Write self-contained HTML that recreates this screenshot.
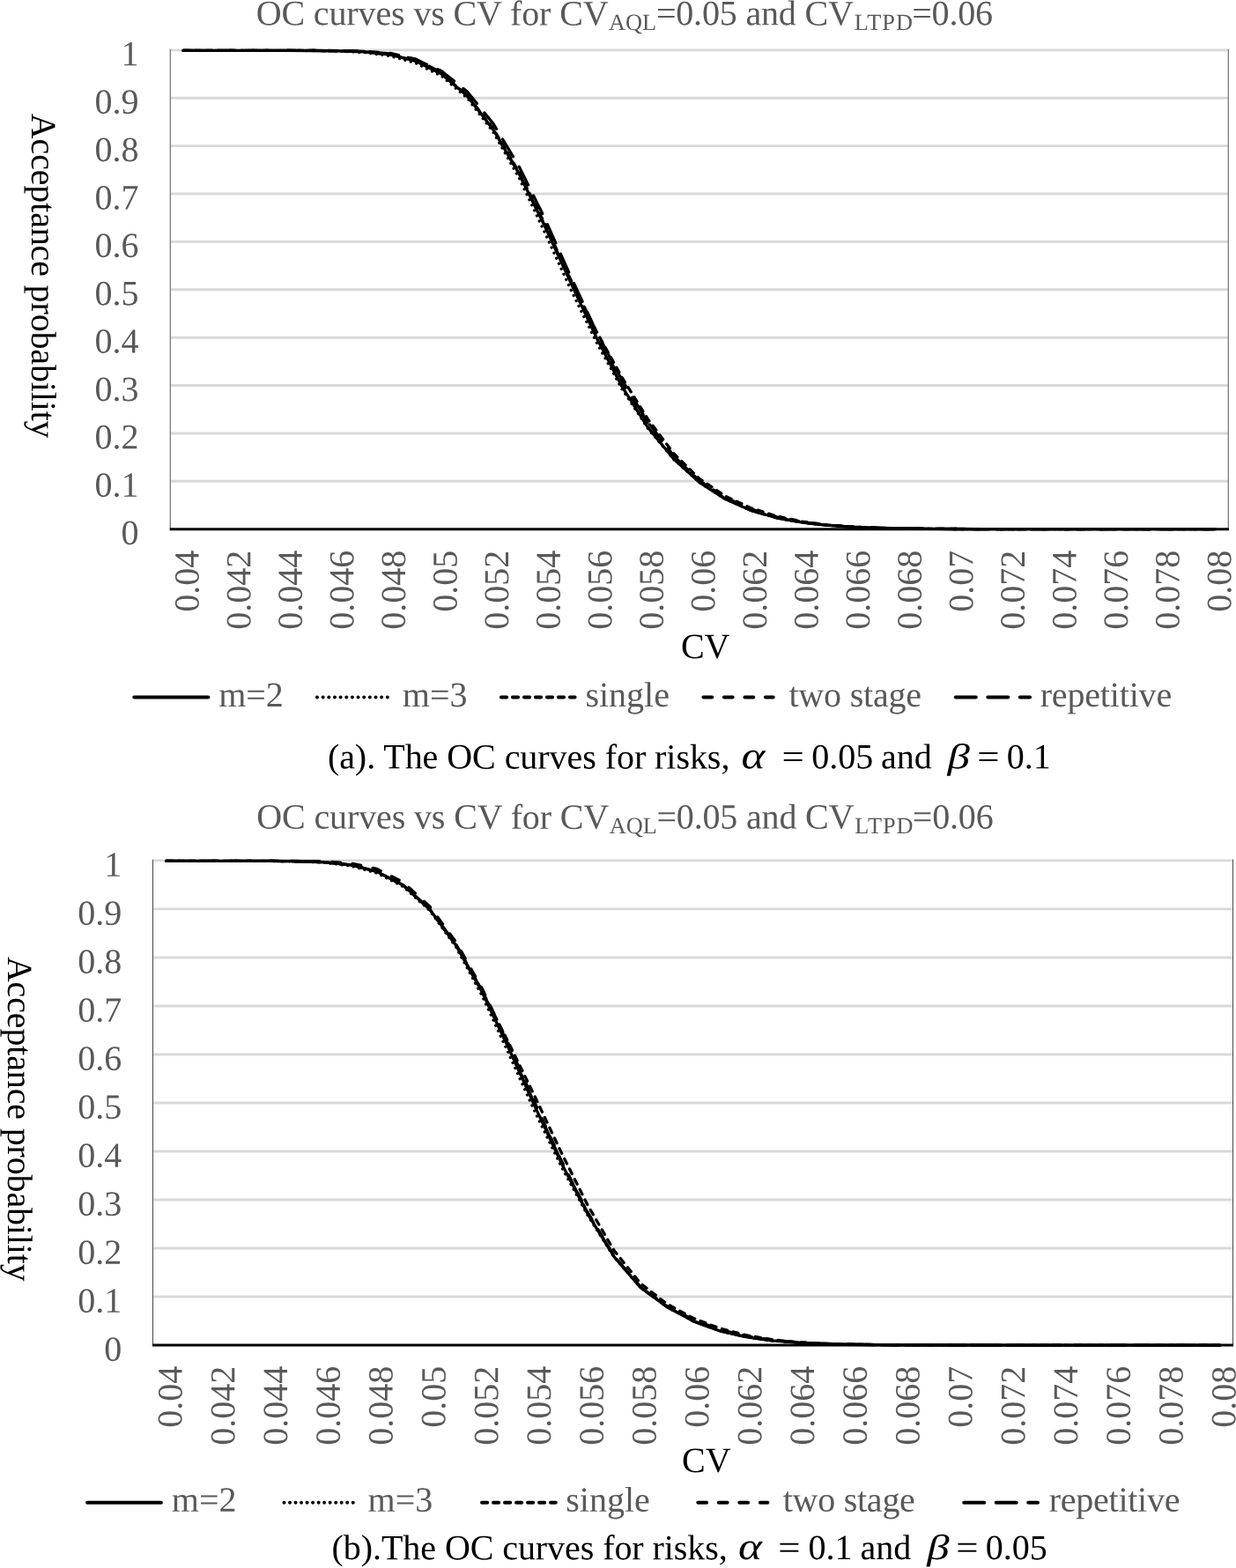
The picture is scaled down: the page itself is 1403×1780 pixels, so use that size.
<!DOCTYPE html>
<html lang="en">
<head>
<meta charset="utf-8">
<title>OC curves vs CV</title>
<style>
html,body{margin:0;padding:0;background:#fff;}
body{width:1403px;height:1780px;overflow:hidden;}
svg{display:block;}
svg text{font-family:"Liberation Serif", "DejaVu Serif", serif;font-size:40px;}
</style>
</head>
<body>
<svg width="1403" height="1780" viewBox="0 0 1403 1780">
<rect width="1403" height="1780" fill="#fff"/>
<line x1="193.50" y1="56.90" x2="1394.40" y2="56.90" stroke="#d9d9d9" stroke-width="2.9"/>
<line x1="193.50" y1="111.28" x2="1394.40" y2="111.28" stroke="#d9d9d9" stroke-width="2.9"/>
<line x1="193.50" y1="165.66" x2="1394.40" y2="165.66" stroke="#d9d9d9" stroke-width="2.9"/>
<line x1="193.50" y1="220.04" x2="1394.40" y2="220.04" stroke="#d9d9d9" stroke-width="2.9"/>
<line x1="193.50" y1="274.42" x2="1394.40" y2="274.42" stroke="#d9d9d9" stroke-width="2.9"/>
<line x1="193.50" y1="328.80" x2="1394.40" y2="328.80" stroke="#d9d9d9" stroke-width="2.9"/>
<line x1="193.50" y1="383.18" x2="1394.40" y2="383.18" stroke="#d9d9d9" stroke-width="2.9"/>
<line x1="193.50" y1="437.56" x2="1394.40" y2="437.56" stroke="#d9d9d9" stroke-width="2.9"/>
<line x1="193.50" y1="491.94" x2="1394.40" y2="491.94" stroke="#d9d9d9" stroke-width="2.9"/>
<line x1="193.50" y1="546.32" x2="1394.40" y2="546.32" stroke="#d9d9d9" stroke-width="2.9"/>
<rect x="192.70" y="55.70" width="1.3" height="545.00" fill="#7a7a7a"/>
<rect x="1393.70" y="55.70" width="1.3" height="545.00" fill="#7a7a7a"/>
<text transform="translate(157.50,74.30) rotate(0.03)" text-anchor="end" fill="#595959">1</text>
<text transform="translate(157.50,128.68) rotate(0.03)" text-anchor="end" fill="#595959">0.9</text>
<text transform="translate(157.50,183.06) rotate(0.03)" text-anchor="end" fill="#595959">0.8</text>
<text transform="translate(157.50,237.44) rotate(0.03)" text-anchor="end" fill="#595959">0.7</text>
<text transform="translate(157.50,291.82) rotate(0.03)" text-anchor="end" fill="#595959">0.6</text>
<text transform="translate(157.50,346.20) rotate(0.03)" text-anchor="end" fill="#595959">0.5</text>
<text transform="translate(157.50,400.58) rotate(0.03)" text-anchor="end" fill="#595959">0.4</text>
<text transform="translate(157.50,454.96) rotate(0.03)" text-anchor="end" fill="#595959">0.3</text>
<text transform="translate(157.50,509.34) rotate(0.03)" text-anchor="end" fill="#595959">0.2</text>
<text transform="translate(157.50,563.72) rotate(0.03)" text-anchor="end" fill="#595959">0.1</text>
<text transform="translate(157.50,618.10) rotate(0.03)" text-anchor="end" fill="#595959">0</text>
<text transform="translate(225.60,624.80) rotate(-89.97)" text-anchor="end" fill="#595959">0.04</text>
<text transform="translate(284.18,624.80) rotate(-89.97)" text-anchor="end" fill="#595959">0.042</text>
<text transform="translate(342.76,624.80) rotate(-89.97)" text-anchor="end" fill="#595959">0.044</text>
<text transform="translate(401.34,624.80) rotate(-89.97)" text-anchor="end" fill="#595959">0.046</text>
<text transform="translate(459.92,624.80) rotate(-89.97)" text-anchor="end" fill="#595959">0.048</text>
<text transform="translate(518.50,624.80) rotate(-89.97)" text-anchor="end" fill="#595959">0.05</text>
<text transform="translate(577.08,624.80) rotate(-89.97)" text-anchor="end" fill="#595959">0.052</text>
<text transform="translate(635.66,624.80) rotate(-89.97)" text-anchor="end" fill="#595959">0.054</text>
<text transform="translate(694.24,624.80) rotate(-89.97)" text-anchor="end" fill="#595959">0.056</text>
<text transform="translate(752.82,624.80) rotate(-89.97)" text-anchor="end" fill="#595959">0.058</text>
<text transform="translate(811.40,624.80) rotate(-89.97)" text-anchor="end" fill="#595959">0.06</text>
<text transform="translate(869.99,624.80) rotate(-89.97)" text-anchor="end" fill="#595959">0.062</text>
<text transform="translate(928.57,624.80) rotate(-89.97)" text-anchor="end" fill="#595959">0.064</text>
<text transform="translate(987.15,624.80) rotate(-89.97)" text-anchor="end" fill="#595959">0.066</text>
<text transform="translate(1045.73,624.80) rotate(-89.97)" text-anchor="end" fill="#595959">0.068</text>
<text transform="translate(1104.31,624.80) rotate(-89.97)" text-anchor="end" fill="#595959">0.07</text>
<text transform="translate(1162.89,624.80) rotate(-89.97)" text-anchor="end" fill="#595959">0.072</text>
<text transform="translate(1221.47,624.80) rotate(-89.97)" text-anchor="end" fill="#595959">0.074</text>
<text transform="translate(1280.05,624.80) rotate(-89.97)" text-anchor="end" fill="#595959">0.076</text>
<text transform="translate(1338.63,624.80) rotate(-89.97)" text-anchor="end" fill="#595959">0.078</text>
<text transform="translate(1397.21,624.80) rotate(-89.97)" text-anchor="end" fill="#595959">0.08</text>
<polyline points="208.15,57.40 237.44,57.40 266.73,57.40 296.02,57.40 325.31,57.42 354.60,57.52 383.89,57.99 413.18,59.58 442.47,63.52 471.76,71.53 501.05,86.29 530.34,111.37 559.63,149.58 588.92,201.46 618.21,263.62 647.50,328.00 676.79,388.09 706.08,441.66 735.37,486.39 764.66,521.48 793.95,547.71 823.24,566.57 852.53,579.50 881.82,587.94 911.11,593.23 940.40,596.43 969.69,598.31 998.98,599.39 1028.27,599.99 1057.56,600.32 1086.85,600.50 1116.14,600.60 1145.43,600.65 1174.72,600.67 1204.01,600.69 1233.30,600.69 1262.59,600.70 1291.88,600.70 1321.17,600.70 1350.46,600.70 1379.75,600.70" fill="none" stroke="#000" stroke-width="3.3" stroke-linecap="round" stroke-linejoin="round" stroke-dasharray="0.01 6.64"/>
<polyline points="208.15,57.40 237.44,57.40 266.73,57.40 296.02,57.40 325.31,57.41 354.60,57.44 383.89,57.55 413.18,58.06 442.47,60.29 471.76,67.19 501.05,82.39 530.34,108.47 559.63,146.66 588.92,196.55 618.21,255.42 647.50,318.49 676.79,379.38 706.08,433.95 735.37,480.72 764.66,517.99 793.95,545.53 823.24,564.70 852.53,577.87 881.82,586.80 911.11,592.63 940.40,596.20 969.69,598.25 998.98,599.38 1028.27,599.99 1057.56,600.32 1086.85,600.50 1116.14,600.60 1145.43,600.65 1174.72,600.67 1204.01,600.69 1233.30,600.69 1262.59,600.70 1291.88,600.70 1321.17,600.70 1350.46,600.70 1379.75,600.70" fill="none" stroke="#000" stroke-width="3.3" stroke-linecap="round" stroke-linejoin="round" stroke-dasharray="9.8 13.7"/>
<polyline points="208.15,57.40 237.44,57.40 266.73,57.40 296.02,57.40 325.31,57.40 354.60,57.42 383.89,57.61 413.18,58.43 442.47,60.98 471.76,67.36 501.05,80.59 530.34,103.99 559.63,139.92 588.92,188.58 618.21,247.65 647.50,313.13 676.79,376.22 706.08,431.70 735.37,479.21 764.66,517.38 793.95,546.04 823.24,566.09 852.53,579.41 881.82,587.93 911.11,593.23 940.40,596.43 969.69,598.31 998.98,599.39 1028.27,599.99 1057.56,600.32 1086.85,600.50 1116.14,600.60 1145.43,600.65 1174.72,600.67 1204.01,600.69 1233.30,600.69 1262.59,600.70 1291.88,600.70 1321.17,600.70 1350.46,600.70 1379.75,600.70" fill="none" stroke="#000" stroke-width="3.3" stroke-linecap="round" stroke-linejoin="round" stroke-dasharray="23 13.5"/>
<polyline points="208.15,57.40 237.44,57.40 266.73,57.40 296.02,57.40 325.31,57.41 354.60,57.49 383.89,57.80 413.18,58.91 442.47,62.02 471.76,69.34 501.05,83.93 530.34,108.99 559.63,146.64 588.92,196.69 618.21,256.34 647.50,320.14 676.79,382.67 706.08,438.93 735.37,485.13 764.66,520.92 793.95,547.52 823.24,566.53 852.53,579.50 881.82,587.94 911.11,593.23 940.40,596.43 969.69,598.31 998.98,599.39 1028.27,599.99 1057.56,600.32 1086.85,600.50 1116.14,600.60 1145.43,600.65 1174.72,600.67 1204.01,600.69 1233.30,600.69 1262.59,600.70 1291.88,600.70 1321.17,600.70 1350.46,600.70 1379.75,600.70" fill="none" stroke="#000" stroke-width="3.3" stroke-linecap="round" stroke-linejoin="round"/>
<polyline points="208.15,57.40 237.44,57.40 266.73,57.40 296.02,57.40 325.31,57.41 354.60,57.46 383.89,57.75 413.18,58.78 442.47,61.78 471.76,68.96 501.05,83.38 530.34,108.22 559.63,145.50 588.92,194.98 618.21,253.78 647.50,316.65 676.79,375.84 706.08,428.46 735.37,475.78 764.66,514.66 793.95,543.52 823.24,563.23 852.53,576.73 881.82,586.02 911.11,592.23 940.40,596.05 969.69,598.21 998.98,599.37 1028.27,599.99 1057.56,600.32 1086.85,600.50 1116.14,600.60 1145.43,600.65 1174.72,600.67 1204.01,600.69 1233.30,600.69 1262.59,600.70 1291.88,600.70 1321.17,600.70 1350.46,600.70 1379.75,600.70" fill="none" stroke="#000" stroke-width="3.3" stroke-linecap="round" stroke-linejoin="round" stroke-dasharray="6.2 6.8"/>
<line x1="192.70" y1="600.70" x2="1395.00" y2="600.70" stroke="#000" stroke-width="3"/>
<text transform="translate(290.70,28.30) rotate(0.03)" fill="#595959" textLength="399.9" lengthAdjust="spacing">OC curves vs CV for CV</text>
<text transform="translate(691.10,33.90) rotate(0.03)" fill="#595959" style="font-size:26.3px" textLength="54.1" lengthAdjust="spacing">AQL</text>
<text transform="translate(744.90,28.30) rotate(0.03)" fill="#595959" textLength="224.0" lengthAdjust="spacing">=0.05 and CV</text>
<text transform="translate(969.70,33.90) rotate(0.03)" fill="#595959" style="font-size:26.3px" textLength="66.2" lengthAdjust="spacing">LTPD</text>
<text transform="translate(1035.20,28.30) rotate(0.03)" fill="#595959" textLength="91.9" lengthAdjust="spacing">=0.06</text>
<text transform="translate(35.90,128.80) rotate(89.97)" fill="#000" textLength="368.8" lengthAdjust="spacing">Acceptance probability</text>
<text transform="translate(772.90,747.00) rotate(0.03)" fill="#000">CV</text>
<line x1="152.30" y1="791.50" x2="236.40" y2="791.50" stroke="#000" stroke-width="4" stroke-linecap="round"/>
<text transform="translate(248.20,801.90) rotate(0.03)" fill="#595959">m=2</text>
<line x1="360.00" y1="791.50" x2="440.10" y2="791.50" stroke="#000" stroke-width="4" stroke-linecap="round" stroke-dasharray="0.01 6.64"/>
<text transform="translate(456.80,801.90) rotate(0.03)" fill="#595959">m=3</text>
<line x1="568.90" y1="791.50" x2="652.60" y2="791.50" stroke="#000" stroke-width="4" stroke-linecap="round" stroke-dasharray="6.2 6.8"/>
<text transform="translate(664.40,801.90) rotate(0.03)" fill="#595959">single</text>
<line x1="798.40" y1="791.50" x2="877.70" y2="791.50" stroke="#000" stroke-width="4" stroke-linecap="round" stroke-dasharray="9.8 13.7"/>
<text transform="translate(895.40,801.90) rotate(0.03)" fill="#595959" textLength="150.7" lengthAdjust="spacing">two stage</text>
<line x1="1084.80" y1="791.50" x2="1169.10" y2="791.50" stroke="#000" stroke-width="4" stroke-linecap="round" stroke-dasharray="23 13.5"/>
<text transform="translate(1180.70,801.90) rotate(0.03)" fill="#595959" textLength="149.5" lengthAdjust="spacing">repetitive</text>
<text transform="translate(371.90,872.30) rotate(0.03)" fill="#000" textLength="456.5" lengthAdjust="spacing">(a). The OC curves for risks,</text>
<text transform="translate(841.60,872.30) rotate(0.03) scale(1.28,1.085)" fill="#000" font-style="italic">α</text>
<text transform="translate(887.60,872.30) rotate(0.03) scale(1.12,1)" fill="#000">=</text>
<text transform="translate(921.20,872.30) rotate(0.03)" fill="#000">0.05</text>
<text transform="translate(1000.10,872.30) rotate(0.03)" fill="#000">and</text>
<text transform="translate(1075.50,872.30) rotate(0.03) scale(1.27,1.0)" fill="#000" font-style="italic">β</text>
<text transform="translate(1109.20,872.30) rotate(0.03) scale(1.12,1)" fill="#000">=</text>
<text transform="translate(1142.80,872.30) rotate(0.03)" fill="#000">0.1</text>
<line x1="173.80" y1="976.90" x2="1399.70" y2="976.90" stroke="#d9d9d9" stroke-width="2.9"/>
<line x1="173.80" y1="1031.91" x2="1399.70" y2="1031.91" stroke="#d9d9d9" stroke-width="2.9"/>
<line x1="173.80" y1="1086.93" x2="1399.70" y2="1086.93" stroke="#d9d9d9" stroke-width="2.9"/>
<line x1="173.80" y1="1141.94" x2="1399.70" y2="1141.94" stroke="#d9d9d9" stroke-width="2.9"/>
<line x1="173.80" y1="1196.96" x2="1399.70" y2="1196.96" stroke="#d9d9d9" stroke-width="2.9"/>
<line x1="173.80" y1="1251.97" x2="1399.70" y2="1251.97" stroke="#d9d9d9" stroke-width="2.9"/>
<line x1="173.80" y1="1306.99" x2="1399.70" y2="1306.99" stroke="#d9d9d9" stroke-width="2.9"/>
<line x1="173.80" y1="1362.01" x2="1399.70" y2="1362.01" stroke="#d9d9d9" stroke-width="2.9"/>
<line x1="173.80" y1="1417.02" x2="1399.70" y2="1417.02" stroke="#d9d9d9" stroke-width="2.9"/>
<line x1="173.80" y1="1472.03" x2="1399.70" y2="1472.03" stroke="#d9d9d9" stroke-width="2.9"/>
<rect x="173.00" y="975.70" width="1.0" height="551.35" fill="#484848"/>
<rect x="1399.00" y="975.70" width="1.0" height="551.35" fill="#484848"/>
<text transform="translate(138.20,994.70) rotate(0.03)" text-anchor="end" fill="#595959">1</text>
<text transform="translate(138.20,1049.71) rotate(0.03)" text-anchor="end" fill="#595959">0.9</text>
<text transform="translate(138.20,1104.73) rotate(0.03)" text-anchor="end" fill="#595959">0.8</text>
<text transform="translate(138.20,1159.74) rotate(0.03)" text-anchor="end" fill="#595959">0.7</text>
<text transform="translate(138.20,1214.76) rotate(0.03)" text-anchor="end" fill="#595959">0.6</text>
<text transform="translate(138.20,1269.77) rotate(0.03)" text-anchor="end" fill="#595959">0.5</text>
<text transform="translate(138.20,1324.79) rotate(0.03)" text-anchor="end" fill="#595959">0.4</text>
<text transform="translate(138.20,1379.81) rotate(0.03)" text-anchor="end" fill="#595959">0.3</text>
<text transform="translate(138.20,1434.82) rotate(0.03)" text-anchor="end" fill="#595959">0.2</text>
<text transform="translate(138.20,1489.83) rotate(0.03)" text-anchor="end" fill="#595959">0.1</text>
<text transform="translate(138.20,1544.85) rotate(0.03)" text-anchor="end" fill="#595959">0</text>
<text transform="translate(206.40,1550.80) rotate(-89.97)" text-anchor="end" fill="#595959">0.04</text>
<text transform="translate(266.20,1550.80) rotate(-89.97)" text-anchor="end" fill="#595959">0.042</text>
<text transform="translate(326.00,1550.80) rotate(-89.97)" text-anchor="end" fill="#595959">0.044</text>
<text transform="translate(385.80,1550.80) rotate(-89.97)" text-anchor="end" fill="#595959">0.046</text>
<text transform="translate(445.60,1550.80) rotate(-89.97)" text-anchor="end" fill="#595959">0.048</text>
<text transform="translate(505.40,1550.80) rotate(-89.97)" text-anchor="end" fill="#595959">0.05</text>
<text transform="translate(565.20,1550.80) rotate(-89.97)" text-anchor="end" fill="#595959">0.052</text>
<text transform="translate(625.00,1550.80) rotate(-89.97)" text-anchor="end" fill="#595959">0.054</text>
<text transform="translate(684.80,1550.80) rotate(-89.97)" text-anchor="end" fill="#595959">0.056</text>
<text transform="translate(744.60,1550.80) rotate(-89.97)" text-anchor="end" fill="#595959">0.058</text>
<text transform="translate(804.40,1550.80) rotate(-89.97)" text-anchor="end" fill="#595959">0.06</text>
<text transform="translate(864.20,1550.80) rotate(-89.97)" text-anchor="end" fill="#595959">0.062</text>
<text transform="translate(924.00,1550.80) rotate(-89.97)" text-anchor="end" fill="#595959">0.064</text>
<text transform="translate(983.80,1550.80) rotate(-89.97)" text-anchor="end" fill="#595959">0.066</text>
<text transform="translate(1043.60,1550.80) rotate(-89.97)" text-anchor="end" fill="#595959">0.068</text>
<text transform="translate(1103.40,1550.80) rotate(-89.97)" text-anchor="end" fill="#595959">0.07</text>
<text transform="translate(1163.20,1550.80) rotate(-89.97)" text-anchor="end" fill="#595959">0.072</text>
<text transform="translate(1223.00,1550.80) rotate(-89.97)" text-anchor="end" fill="#595959">0.074</text>
<text transform="translate(1282.80,1550.80) rotate(-89.97)" text-anchor="end" fill="#595959">0.076</text>
<text transform="translate(1342.60,1550.80) rotate(-89.97)" text-anchor="end" fill="#595959">0.078</text>
<text transform="translate(1402.40,1550.80) rotate(-89.97)" text-anchor="end" fill="#595959">0.08</text>
<polyline points="188.75,977.40 218.65,977.40 248.55,977.40 278.45,977.41 308.35,977.49 338.25,977.86 368.15,979.26 398.05,983.02 427.95,991.16 457.85,1006.66 487.75,1033.60 517.65,1075.23 547.55,1131.16 577.45,1196.25 607.35,1262.67 637.25,1324.54 667.15,1379.88 697.05,1427.10 726.95,1461.46 756.85,1483.46 786.75,1499.64 816.65,1510.71 846.55,1517.63 876.45,1521.78 906.35,1524.17 936.25,1525.51 966.15,1526.25 996.05,1526.64 1025.95,1526.84 1055.85,1526.95 1085.75,1527.00 1115.65,1527.02 1145.55,1527.04 1175.45,1527.04 1205.35,1527.05 1235.25,1527.05 1265.15,1527.05 1295.05,1527.05 1324.95,1527.05 1354.85,1527.05 1384.75,1527.05" fill="none" stroke="#000" stroke-width="3.3" stroke-linecap="round" stroke-linejoin="round" stroke-dasharray="0.01 6.64"/>
<polyline points="188.75,977.40 218.65,977.40 248.55,977.40 278.45,977.40 308.35,977.41 338.25,977.49 368.15,977.91 398.05,979.88 427.95,986.41 457.85,1001.66 487.75,1028.86 517.65,1069.45 547.55,1122.79 577.45,1185.57 607.35,1252.48 637.25,1317.58 667.15,1376.44 697.05,1425.76 726.95,1460.75 756.85,1482.43 786.75,1498.07 816.65,1509.13 846.55,1516.48 876.45,1521.17 906.35,1523.94 936.25,1525.45 966.15,1526.23 996.05,1526.63 1025.95,1526.84 1055.85,1526.95 1085.75,1527.00 1115.65,1527.02 1145.55,1527.04 1175.45,1527.04 1205.35,1527.05 1235.25,1527.05 1265.15,1527.05 1295.05,1527.05 1324.95,1527.05 1354.85,1527.05 1384.75,1527.05" fill="none" stroke="#000" stroke-width="3.3" stroke-linecap="round" stroke-linejoin="round" stroke-dasharray="9.8 13.7"/>
<polyline points="188.75,977.40 218.65,977.40 248.55,977.40 278.45,977.41 308.35,977.46 338.25,977.74 368.15,978.76 398.05,981.85 427.95,989.43 457.85,1004.92 487.75,1031.78 517.65,1072.08 547.55,1125.26 577.45,1187.84 607.35,1254.27 637.25,1318.69 667.15,1376.97 697.05,1426.01 726.95,1461.13 756.85,1483.37 786.75,1499.62 816.65,1510.71 846.55,1517.63 876.45,1521.78 906.35,1524.17 936.25,1525.51 966.15,1526.25 996.05,1526.64 1025.95,1526.84 1055.85,1526.95 1085.75,1527.00 1115.65,1527.02 1145.55,1527.04 1175.45,1527.04 1205.35,1527.05 1235.25,1527.05 1265.15,1527.05 1295.05,1527.05 1324.95,1527.05 1354.85,1527.05 1384.75,1527.05" fill="none" stroke="#000" stroke-width="3.3" stroke-linecap="round" stroke-linejoin="round" stroke-dasharray="23 13.5"/>
<polyline points="188.75,977.40 218.65,977.40 248.55,977.40 278.45,977.41 308.35,977.47 338.25,977.74 368.15,978.77 398.05,981.87 427.95,989.51 457.85,1005.15 487.75,1032.34 517.65,1073.18 547.55,1126.98 577.45,1189.98 607.35,1256.41 637.25,1320.40 667.15,1378.07 697.05,1426.58 726.95,1461.36 756.85,1483.45 786.75,1499.64 816.65,1510.71 846.55,1517.63 876.45,1521.78 906.35,1524.17 936.25,1525.51 966.15,1526.25 996.05,1526.64 1025.95,1526.84 1055.85,1526.95 1085.75,1527.00 1115.65,1527.02 1145.55,1527.04 1175.45,1527.04 1205.35,1527.05 1235.25,1527.05 1265.15,1527.05 1295.05,1527.05 1324.95,1527.05 1354.85,1527.05 1384.75,1527.05" fill="none" stroke="#000" stroke-width="3.3" stroke-linecap="round" stroke-linejoin="round"/>
<polyline points="188.75,977.40 218.65,977.40 248.55,977.40 278.45,977.41 308.35,977.47 338.25,977.74 368.15,978.77 398.05,981.87 427.95,989.51 457.85,1005.15 487.75,1032.32 517.65,1072.91 547.55,1125.22 577.45,1183.94 607.35,1245.22 637.25,1308.58 667.15,1368.22 697.05,1419.64 726.95,1456.86 756.85,1480.00 786.75,1496.30 816.65,1507.82 846.55,1515.65 876.45,1520.75 906.35,1523.78 936.25,1525.40 966.15,1526.22 996.05,1526.63 1025.95,1526.84 1055.85,1526.95 1085.75,1527.00 1115.65,1527.02 1145.55,1527.04 1175.45,1527.04 1205.35,1527.05 1235.25,1527.05 1265.15,1527.05 1295.05,1527.05 1324.95,1527.05 1354.85,1527.05 1384.75,1527.05" fill="none" stroke="#000" stroke-width="3.3" stroke-linecap="round" stroke-linejoin="round" stroke-dasharray="6.2 6.8"/>
<line x1="173.00" y1="1527.05" x2="1400.00" y2="1527.05" stroke="#000" stroke-width="3"/>
<text transform="translate(291.30,940.50) rotate(0.03)" fill="#595959" textLength="399.9" lengthAdjust="spacing">OC curves vs CV for CV</text>
<text transform="translate(691.70,946.10) rotate(0.03)" fill="#595959" style="font-size:26.3px" textLength="54.1" lengthAdjust="spacing">AQL</text>
<text transform="translate(745.50,940.50) rotate(0.03)" fill="#595959" textLength="224.0" lengthAdjust="spacing">=0.05 and CV</text>
<text transform="translate(970.30,946.10) rotate(0.03)" fill="#595959" style="font-size:26.3px" textLength="66.2" lengthAdjust="spacing">LTPD</text>
<text transform="translate(1035.80,940.50) rotate(0.03)" fill="#595959" textLength="91.9" lengthAdjust="spacing">=0.06</text>
<text transform="translate(8.90,1085.90) rotate(89.97)" fill="#000" textLength="368.8" lengthAdjust="spacing">Acceptance probability</text>
<text transform="translate(774.10,1671.10) rotate(0.03)" fill="#000">CV</text>
<line x1="99.10" y1="1705.70" x2="182.90" y2="1705.70" stroke="#000" stroke-width="4" stroke-linecap="round"/>
<text transform="translate(194.80,1715.80) rotate(0.03)" fill="#595959">m=2</text>
<line x1="322.50" y1="1705.70" x2="401.00" y2="1705.70" stroke="#000" stroke-width="4" stroke-linecap="round" stroke-dasharray="0.01 6.51"/>
<text transform="translate(417.60,1715.80) rotate(0.03)" fill="#595959">m=3</text>
<line x1="547.00" y1="1705.70" x2="630.80" y2="1705.70" stroke="#000" stroke-width="4" stroke-linecap="round" stroke-dasharray="6.2 6.8"/>
<text transform="translate(642.20,1715.80) rotate(0.03)" fill="#595959">single</text>
<line x1="792.30" y1="1705.70" x2="871.40" y2="1705.70" stroke="#000" stroke-width="4" stroke-linecap="round" stroke-dasharray="9.8 13.7"/>
<text transform="translate(888.70,1715.80) rotate(0.03)" fill="#595959" textLength="150.2" lengthAdjust="spacing">two stage</text>
<line x1="1094.20" y1="1705.70" x2="1178.00" y2="1705.70" stroke="#000" stroke-width="4" stroke-linecap="round" stroke-dasharray="23 13.5"/>
<text transform="translate(1190.70,1715.80) rotate(0.03)" fill="#595959" textLength="148.8" lengthAdjust="spacing">repetitive</text>
<text transform="translate(376.60,1770.10) rotate(0.03)" fill="#000" textLength="449.2" lengthAdjust="spacing">(b).The OC curves for risks,</text>
<text transform="translate(838.00,1770.10) rotate(0.03) scale(1.28,1.085)" fill="#000" font-style="italic">α</text>
<text transform="translate(883.20,1770.10) rotate(0.03) scale(1.12,1)" fill="#000">=</text>
<text transform="translate(917.50,1770.10) rotate(0.03)" fill="#000">0.1</text>
<text transform="translate(976.60,1770.10) rotate(0.03)" fill="#000">and</text>
<text transform="translate(1052.30,1770.10) rotate(0.03) scale(1.27,1.0)" fill="#000" font-style="italic">β</text>
<text transform="translate(1085.30,1770.10) rotate(0.03) scale(1.12,1)" fill="#000">=</text>
<text transform="translate(1118.80,1770.10) rotate(0.03)" fill="#000">0.05</text>
</svg>
</body>
</html>
